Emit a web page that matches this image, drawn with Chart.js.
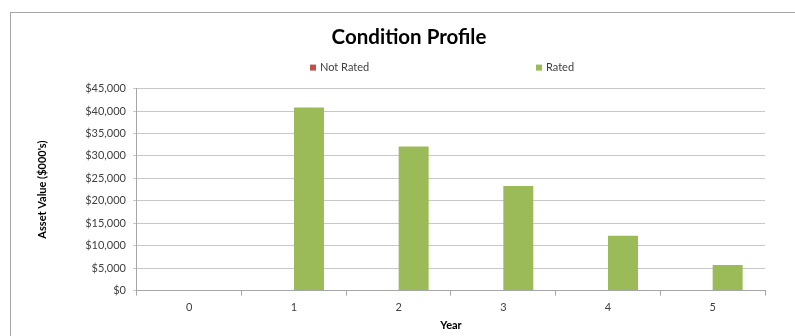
<!DOCTYPE html>
<html>
<head>
<meta charset="utf-8">
<script src="https://cdn.jsdelivr.net/npm/chart.js@4/dist/chart.umd.min.js"></script>
<style>
  html, body { margin: 0; padding: 0; background: #fff; overflow: hidden; width: 795px; height: 336px; }
  #frame {
    position: absolute; left: 10px; top: 12px;
    width: 785px; height: 324px; overflow: hidden;
    border-left: 1px solid #a6a6a6; border-top: 1px solid #a6a6a6;
  }
  #chart { display: block; }
</style>
</head>
<body>
<div id="frame"><canvas id="chart" width="796" height="323"></canvas></div>
<script>
// Asset value by year, split by rating status ($000's)
const years = ['0', '1', '2', '3', '4', '5'];
const notRated = [0, 0, 0, 0, 0, 0];
const rated = [0, 40800, 32100, 23300, 12200, 5700];
const yTicks = [0, 5000, 10000, 15000, 20000, 25000, 30000, 35000, 40000, 45000];

const FONT = 'Lato, "Open Sans", sans-serif';
const RED = '#c0504d';
const GREEN = '#9bbb59';

// Legend drawn above the plot, spaced across the plot width
const spacedLegend = {
  id: 'spacedLegend',
  afterDraw(chart) {
    const ctx = chart.ctx;
    const area = chart.chartArea;
    const mid = (area.left + area.right) / 2;
    const offsets = [-141, 85];
    const y = area.top - 21;
    ctx.save();
    ctx.font = '11px ' + FONT;
    ctx.textBaseline = 'middle';
    ctx.textAlign = 'left';
    chart.data.datasets.forEach((ds, i) => {
      const x = mid + offsets[i];
      ctx.fillStyle = ds.backgroundColor;
      ctx.fillRect(x, y - 3, 6, 6);
      ctx.fillStyle = '#404040';
      ctx.fillText(ds.label, x + 10, y);
    });
    ctx.restore();
  }
};

new Chart(document.getElementById('chart'), {
  type: 'bar',
  data: {
    labels: years,
    datasets: [
      { label: 'Not Rated', data: notRated, backgroundColor: RED },
      { label: 'Rated', data: rated, backgroundColor: GREEN }
    ]
  },
  options: {
    responsive: false,
    animation: false,
    layout: { padding: 0 },
    datasets: { bar: { categoryPercentage: 0.573, barPercentage: 1 } },
    plugins: {
      legend: { display: false },
      tooltip: { enabled: false },
      title: {
        display: true,
        text: 'Condition Profile',
        color: '#000',
        font: { family: FONT, size: 20.5, weight: 'bold' },
        padding: { top: 12, bottom: 39 }
      }
    },
    scales: {
      x: {
        grid: {
          offset: true, drawOnChartArea: false, drawTicks: true,
          tickLength: 5, color: '#a6a6a6'
        },
        border: { color: '#a6a6a6' },
        ticks: { color: '#404040', font: { family: FONT, size: 11 }, padding: 5 },
        title: {
          display: true, text: 'Year', color: '#000',
          font: { family: FONT, size: 11, weight: 'bold' },
          padding: { top: 0, bottom: 4 }
        }
      },
      y: {
        min: 0, max: 45000,
        afterBuildTicks(scale) { scale.ticks = yTicks.map(v => ({ value: v })); },
        grid: { color: '#c8c8c8', tickLength: 4 },
        border: { color: '#a6a6a6' },
        ticks: {
          color: '#404040', font: { family: FONT, size: 11 }, padding: 7,
          callback: v => '$' + Number(v).toLocaleString('en-US')
        },
        title: {
          display: true, text: "Asset Value ($000's)", color: '#000',
          font: { family: FONT, size: 11, weight: 'bold' },
          padding: { top: 25, bottom: 29 }
        }
      },
      // empty margin on the right of the plot
      gutter: {
        type: 'linear', position: 'right', display: true,
        grid: { display: false, drawTicks: false },
        border: { display: false },
        ticks: { display: false },
        afterFit(scale) { scale.width = 42; }
      }
    }
  },
  plugins: [spacedLegend]
});
</script>
</body>
</html>
